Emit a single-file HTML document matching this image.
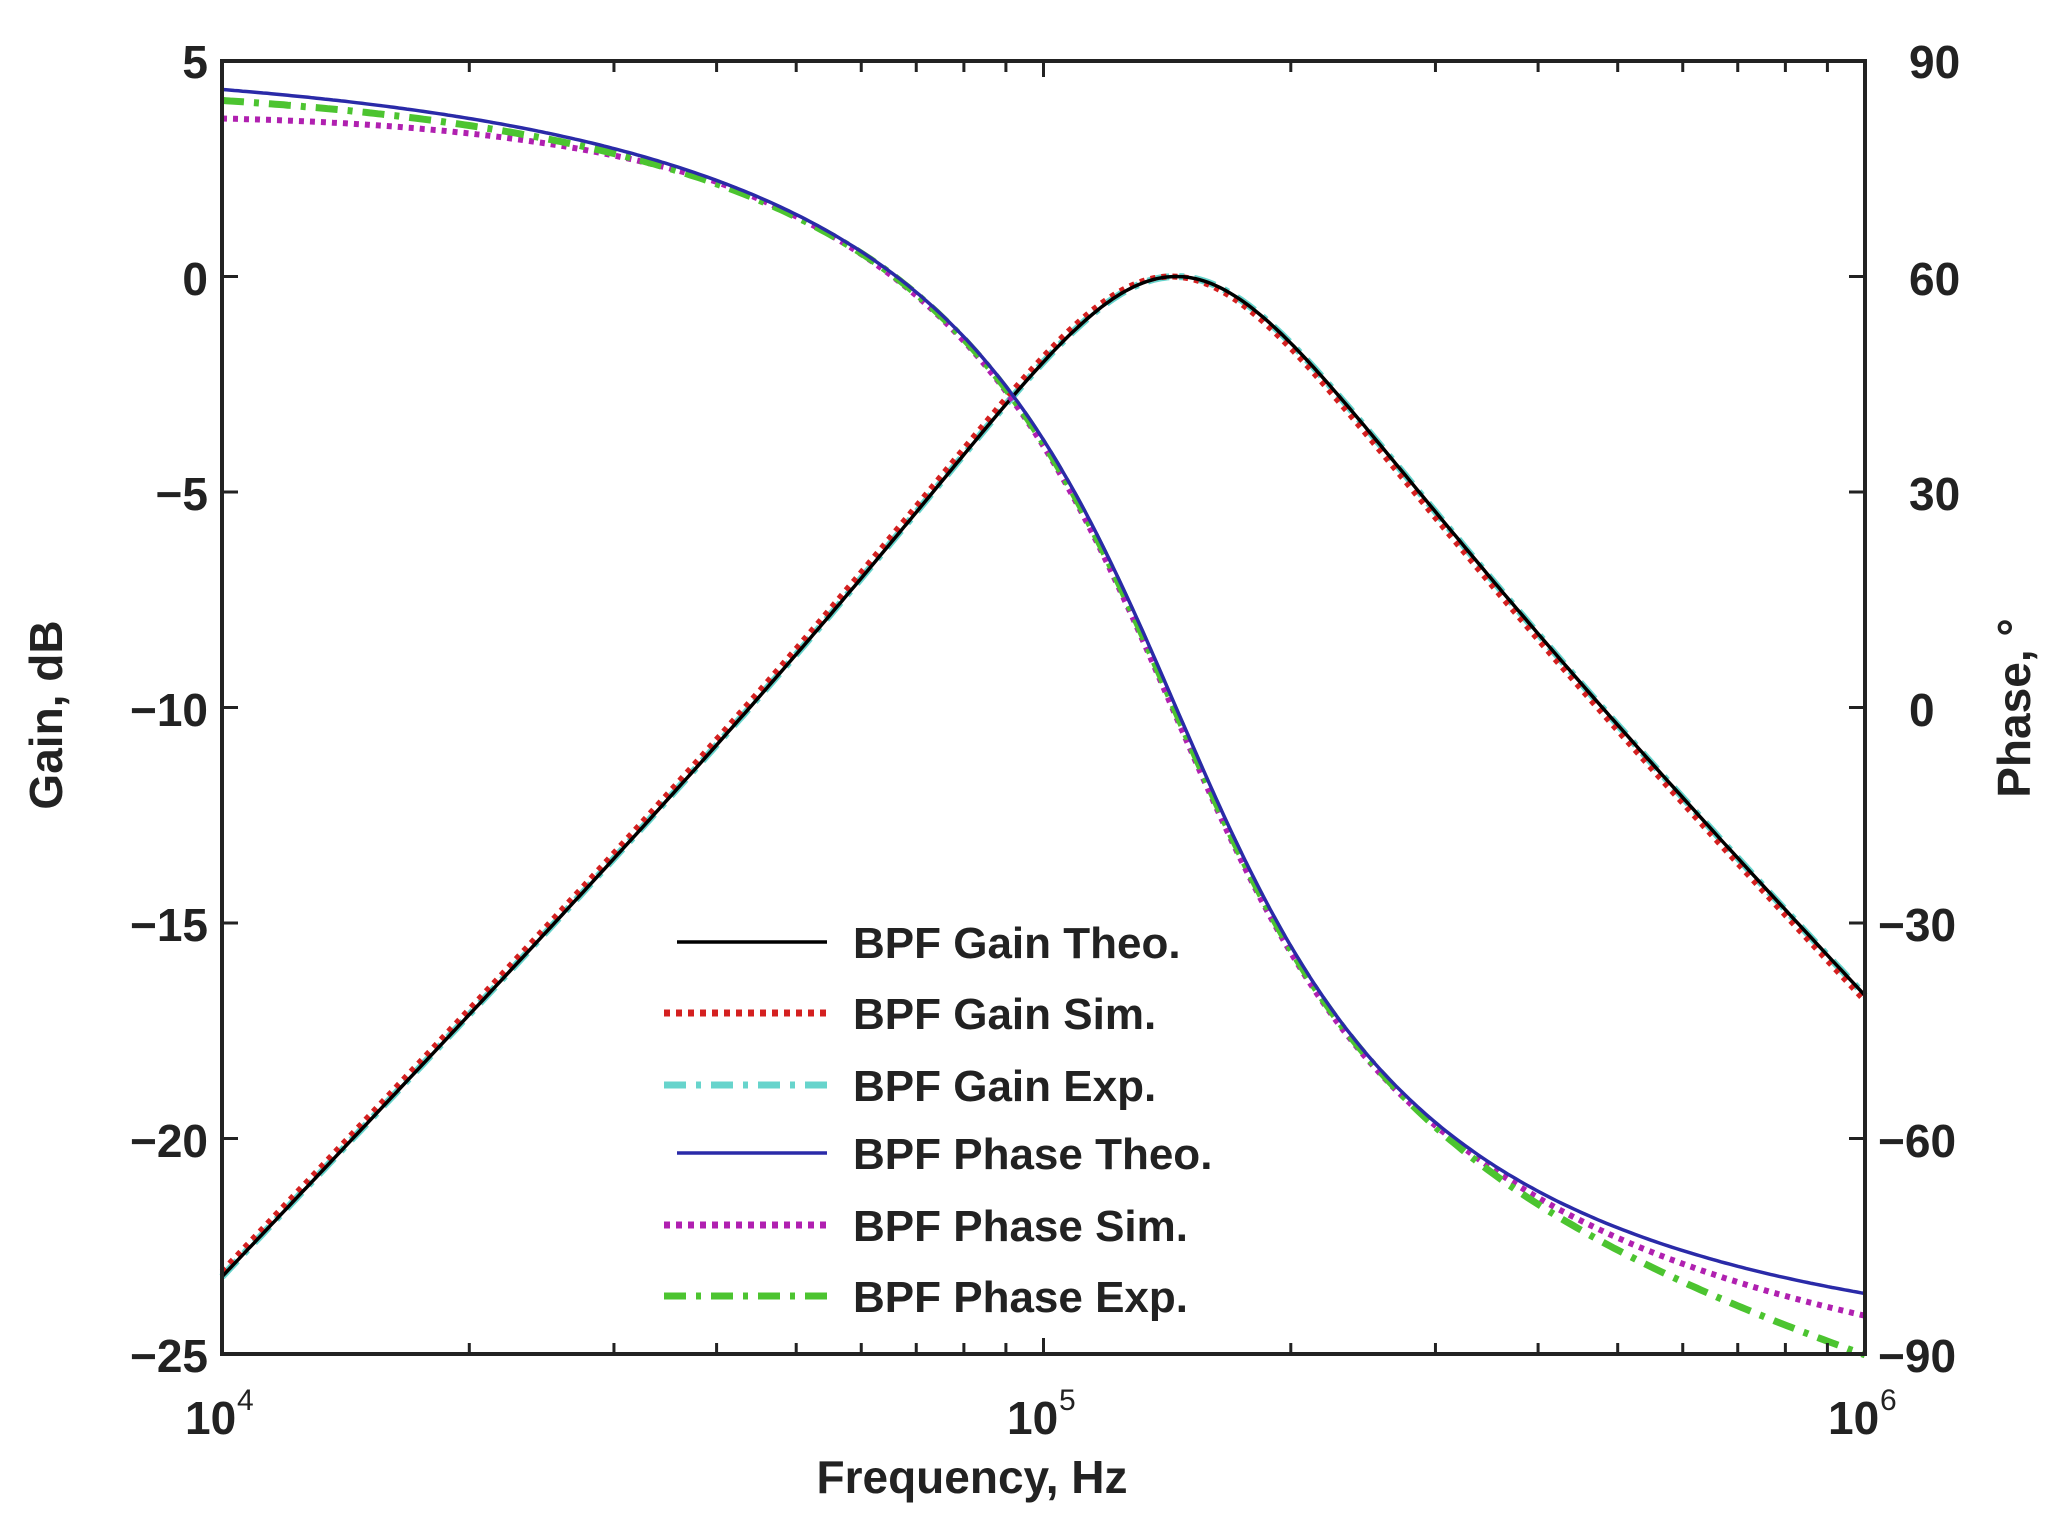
<!DOCTYPE html>
<html><head><meta charset="utf-8"><style>
html,body{margin:0;padding:0;background:#fff;}
svg{display:block;font-family:"Liberation Sans",sans-serif;font-weight:bold;}
</style></head><body>
<svg id="s" width="2072" height="1528" viewBox="0 0 2072 1528" xmlns="http://www.w3.org/2000/svg">
<g id="curves"></g>
<g id="axes" fill="#222"></g>
<g font-size="46" fill="#222">
<text x="208" y="78" text-anchor="end">5</text>
<text x="208" y="295" text-anchor="end">0</text>
<text x="208" y="510" text-anchor="end">−5</text>
<text x="208" y="726" text-anchor="end">−10</text>
<text x="208" y="941" text-anchor="end">−15</text>
<text x="208" y="1157" text-anchor="end">−20</text>
<text x="208" y="1372" text-anchor="end">−25</text>
<text x="1909" y="78">90</text>
<text x="1909" y="295">60</text>
<text x="1909" y="510">30</text>
<text x="1909" y="726">0</text>
<text x="1878" y="941">−30</text>
<text x="1878" y="1157">−60</text>
<text x="1878" y="1372">−90</text>
<text x="185" y="1434">10</text><text x="237" y="1410" font-size="30" font-weight="normal">4</text>
<text x="1007" y="1434">10</text><text x="1059" y="1410" font-size="30" font-weight="normal">5</text>
<text x="1828" y="1434">10</text><text x="1880" y="1410" font-size="30" font-weight="normal">6</text>
<text x="972" y="1493" text-anchor="middle">Frequency, Hz</text>
<text transform="translate(62,715) rotate(-90)" text-anchor="middle">Gain, dB</text>
<text transform="translate(2030,708) rotate(-90)" text-anchor="middle">Phase, °</text>
</g>
<g id="legend" font-size="44" fill="#222"></g>
</svg>
<script>
var X0=222,X1=1865,Y0=61,Y1=1354,DEC=(X1-X0)/2,PXdB=(Y1-Y0)/30;
function xf(f){return X0+(Math.log10(f)-4)*DEC;}
function yg(g){return Y0+(5-g)*PXdB;}
function yp(p){return yg((p+90)/180*30-25);}
function bp(f,f0,Q){var x=f/f0;var re=1-x*x,im=x/Q;var mag=(x/Q)/Math.sqrt(re*re+im*im);
 var ph=90-Math.atan2(im,re)*180/Math.PI;return [20*Math.log10(mag),ph];}
function path(fn,yfun){var d="";for(var i=0;i<=400;i++){var f=Math.pow(10,4+2*i/400);var v=fn(f);
 d+=(i?"L":"M")+xf(f).toFixed(1)+","+yfun(v).toFixed(1);}return d;}
var NS="http://www.w3.org/2000/svg";
function add(g,tag,attrs){var e=document.createElementNS(NS,tag);for(var k in attrs)e.setAttribute(k,attrs[k]);g.appendChild(e);return e;}
var C=document.getElementById("curves");
var series=[
 {fn:function(f){return bp(f,1.45e5,1)[0];},y:yg,c:"#67d4cc",w:7,da:"22,10,5,10"},
 {fn:function(f){return bp(f,1.43e5,1.0)[0];},y:yg,c:"#d42020",w:6,da:"5,6"},
 {fn:function(f){return bp(f,1.45e5,1)[0];},y:yg,c:"#000",w:3.5,da:""},
 {fn:function(f){var p=bp(f*0.99,1.42e5,1)[1];var l=Math.log10(f);return p-4*Math.max(0,1-(l-4)/0.6)+(-3*Math.max(0,(l-5.5)/0.5));},y:yp,c:"#b020b0",w:6,da:"5,6"},
 {fn:function(f){var p=bp(f*0.985,1.42e5,1)[1];var l=Math.log10(f);return p-1.5*Math.max(0,1-(l-4)/0.8)+(-8.5*Math.pow(Math.max(0,(l-5.4)/0.6),1.5));},y:yp,c:"#4cc430",w:7,da:"22,10,5,10"},
 {fn:function(f){return bp(f,1.45e5,1)[1];},y:yp,c:"#2a2aa8",w:3.5,da:""}
];
series.forEach(function(s){var a={d:path(s.fn,s.y),fill:"none",stroke:s.c,"stroke-width":s.w};if(s.da)a["stroke-dasharray"]=s.da;add(C,"path",a);});
var A=document.getElementById("axes");
add(A,"rect",{x:X0,y:Y0,width:X1-X0,height:Y1-Y0,fill:"none",stroke:"#222","stroke-width":4});
for(var d=4;d<6;d++)for(var m=2;m<=9;m++){var x=xf(m*Math.pow(10,d));
 add(A,"line",{x1:x,y1:Y0,x2:x,y2:Y0+11,stroke:"#222","stroke-width":3});
 add(A,"line",{x1:x,y1:Y1,x2:x,y2:Y1-11,stroke:"#222","stroke-width":3});}
[xf(1e5)].forEach(function(x){add(A,"line",{x1:x,y1:Y0,x2:x,y2:Y0+16,stroke:"#222","stroke-width":3});add(A,"line",{x1:x,y1:Y1,x2:x,y2:Y1-16,stroke:"#222","stroke-width":3});});
for(var g=-20;g<=0;g+=5){var y=yg(g);
 add(A,"line",{x1:X0,y1:y,x2:X0+16,y2:y,stroke:"#222","stroke-width":3});
 add(A,"line",{x1:X1,y1:y,x2:X1-16,y2:y,stroke:"#222","stroke-width":3});}
var L=document.getElementById("legend");
var rows=[["BPF Gain Theo.","#000",3.5,""],["BPF Gain Sim.","#d42020",7,"6,6"],["BPF Gain Exp.","#67d4cc",7,"22,10,5,10"],
["BPF Phase Theo.","#2a2aa8",3.5,""],["BPF Phase Sim.","#b020b0",7,"6,6"],["BPF Phase Exp.","#4cc430",7,"22,10,5,10"]];
var ys=[942,1013,1085,1153,1225,1296];
rows.forEach(function(r,i){var y=ys[i];var a={x1:r[3]?664:677,y1:y,x2:827,y2:y,stroke:r[1],"stroke-width":r[2]};if(r[3])a["stroke-dasharray"]=r[3];
 add(L,"line",a);var t=add(L,"text",{x:853,y:y+16});t.textContent=r[0];});
</script>
</body></html>
